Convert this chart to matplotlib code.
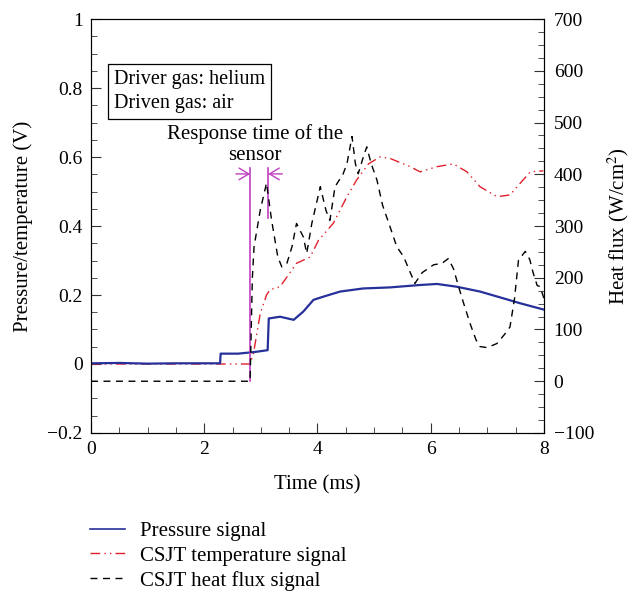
import matplotlib
matplotlib.use("Agg")
import matplotlib.pyplot as plt
from matplotlib.lines import Line2D
from matplotlib.ticker import MultipleLocator

plt.rcParams['font.family'] = ['Liberation Serif', 'DejaVu Serif']
plt.rcParams['mathtext.fontset'] = 'stix'

# Pressure signal (V)
p_t = [0, 0.5, 1.0, 1.5, 2.0, 2.28, 2.29, 2.6, 2.9, 3.12, 3.14, 3.34, 3.58, 3.75, 3.93, 4.10,
       4.40, 4.81, 5.28, 5.81, 6.11, 6.46, 6.87, 7.29, 7.58, 7.99]
p_v = [0.002, 0.003, 0.001, 0.002, 0.002, 0.002, 0.030, 0.030, 0.035, 0.040, 0.132, 0.137, 0.128,
       0.152, 0.186, 0.195, 0.210, 0.219, 0.222, 0.229, 0.232, 0.224, 0.210, 0.190, 0.176, 0.158]

# CSJT temperature signal (V)
t_t = [0, 2.81, 2.87, 2.99, 3.10, 3.16, 3.34, 3.63, 3.87, 4.02, 4.28, 4.52, 4.69, 4.90, 5.10,
       5.28, 5.64, 5.81, 6.11, 6.40, 6.64, 6.87, 7.17, 7.40, 7.58, 7.76, 7.99]
t_v = [0.0, 0.0, 0.031, 0.147, 0.200, 0.215, 0.224, 0.292, 0.310, 0.359, 0.408, 0.485, 0.533,
       0.580, 0.600, 0.596, 0.572, 0.557, 0.572, 0.580, 0.557, 0.514, 0.485, 0.490, 0.524, 0.557, 0.560]

# CSJT heat flux signal (W/cm^2)
h_t = [0, 2.81, 2.85, 2.88, 2.99, 3.10, 3.19, 3.30, 3.37, 3.46, 3.55, 3.63, 3.75, 3.81, 3.90,
       4.05, 4.15, 4.22, 4.31, 4.45, 4.52, 4.61, 4.67, 4.72, 4.80, 4.87, 4.95, 5.05, 5.15, 5.28,
       5.40, 5.52, 5.62, 5.72, 5.85, 6.05, 6.20, 6.31, 6.40, 6.50, 6.58, 6.70, 6.80, 6.87, 7.00,
       7.17, 7.30, 7.40, 7.48, 7.55, 7.67, 7.75, 7.81, 7.88, 7.93, 8.0]
h_v = [0, 0, 200, 260, 331, 383, 311, 240, 221, 228, 260, 305, 279, 247, 305,
       376, 330, 311, 376, 400, 420, 473, 420, 401, 430, 453, 420, 389, 340, 299,
       260, 241, 215, 189, 210, 225, 228, 237, 218, 180, 151, 110, 80, 67, 65,
       73, 90, 105, 160, 234, 251, 235, 209, 185, 183, 160]

# Response time markers (ms)
resp_start = 2.81
resp_end = 3.13

FS = 15
TS = 14

fig = plt.figure(figsize=(6.34, 5.95), dpi=100)
ax = fig.add_axes([0.1435, 0.2723, 0.7145, 0.6957])
ax2 = ax.twinx()

blue = '#26309a'
red = '#e0202a'
mag = '#c040c0'

ax.plot(p_t, p_v, color=blue, lw=1.6, zorder=4)
ax.plot(t_t, t_v, color=red, lw=1.0, dashes=(7, 3, 1, 3, 1, 3), zorder=3)
ax2.plot(h_t, h_v, color='black', lw=1.0, dashes=(5, 4), zorder=3)

ax.set_xlim(0, 8)
ax.set_ylim(-0.2, 1.0)
ax2.set_ylim(-100, 700)

ax.xaxis.set_major_locator(MultipleLocator(2))
ax.xaxis.set_minor_locator(MultipleLocator(0.5))
ax.yaxis.set_major_locator(MultipleLocator(0.2))
ax.yaxis.set_minor_locator(MultipleLocator(0.05))
ax2.yaxis.set_major_locator(MultipleLocator(100))
ax2.yaxis.set_minor_locator(MultipleLocator(25))

for a in (ax, ax2):
    a.tick_params(which='both', direction='in', labelsize=TS, color='#333333')
    a.tick_params(which='major', length=7)
    a.tick_params(which='minor', length=4)
ax.tick_params(axis='both', pad=6)
ax2.tick_params(axis='y', pad=7)

def fmt_left(v, pos):
    s = f"{v:.1f}".rstrip('0').rstrip('.')
    if s in ('-0', '0.0'):
        s = '0'
    return s.replace('-', '\u2212')

def fmt_right(v, pos):
    return f"{int(round(v))}".replace('-', '\u2212')

ax.yaxis.set_major_formatter(plt.FuncFormatter(fmt_left))
ax2.yaxis.set_major_formatter(plt.FuncFormatter(fmt_right))
ax.xaxis.set_major_formatter(plt.FuncFormatter(lambda v, p: f"{int(v)}"))

ax.set_xlabel('Time (ms)', fontsize=FS, labelpad=12)
ax.set_ylabel('Pressure/temperature (V)', fontsize=FS, labelpad=10)
ax2.set_ylabel('Heat flux (W/cm$^2$)', fontsize=FS, labelpad=8)

for s in ax.spines.values():
    s.set_color('#333333')

# Response time markers
ax.plot([resp_start, resp_start], [-0.05, 0.568], color=mag, lw=1.2, zorder=5)
ax.plot([resp_end, resp_end], [0.423, 0.568], color=mag, lw=1.2, zorder=5)
ax.annotate('', xy=(resp_start, 0.551), xytext=(resp_start - 0.25, 0.551),
            arrowprops=dict(arrowstyle='->,head_length=0.5,head_width=0.3', color=mag,
                            lw=1.0, mutation_scale=14, shrinkA=0, shrinkB=0), zorder=5)
ax.annotate('', xy=(resp_end, 0.551), xytext=(resp_end + 0.25, 0.551),
            arrowprops=dict(arrowstyle='->,head_length=0.5,head_width=0.3', color=mag,
                            lw=1.0, mutation_scale=14, shrinkA=0, shrinkB=0), zorder=5)
ax.text(2.9, 0.637, 'Response time of the\nsensor', ha='center', va='center',
        fontsize=FS, linespacing=1.15)

ax.text(0.40, 0.79, 'Driver gas: helium\nDriven gas: air', ha='left', va='center',
        fontsize=FS - 0.5, linespacing=1.35,
        bbox=dict(boxstyle='square,pad=0.3', fc='white', ec='black', lw=0.9))

handles = [Line2D([], [], color=blue, lw=1.2),
           Line2D([], [], color=red, lw=1.0, dashes=(7, 3, 1, 3, 1, 3)),
           Line2D([], [], color='black', lw=1.0, dashes=(5, 4))]
labels = ['Pressure signal', 'CSJT temperature signal', 'CSJT heat flux signal']
fig.legend(handles, labels, loc='upper left', bbox_to_anchor=(0.142, 0.124),
           frameon=False, fontsize=FS, handlelength=1.7, handletextpad=0.7,
           labelspacing=0.25, borderaxespad=0, borderpad=0)

fig.savefig('out.png', dpi=100)
